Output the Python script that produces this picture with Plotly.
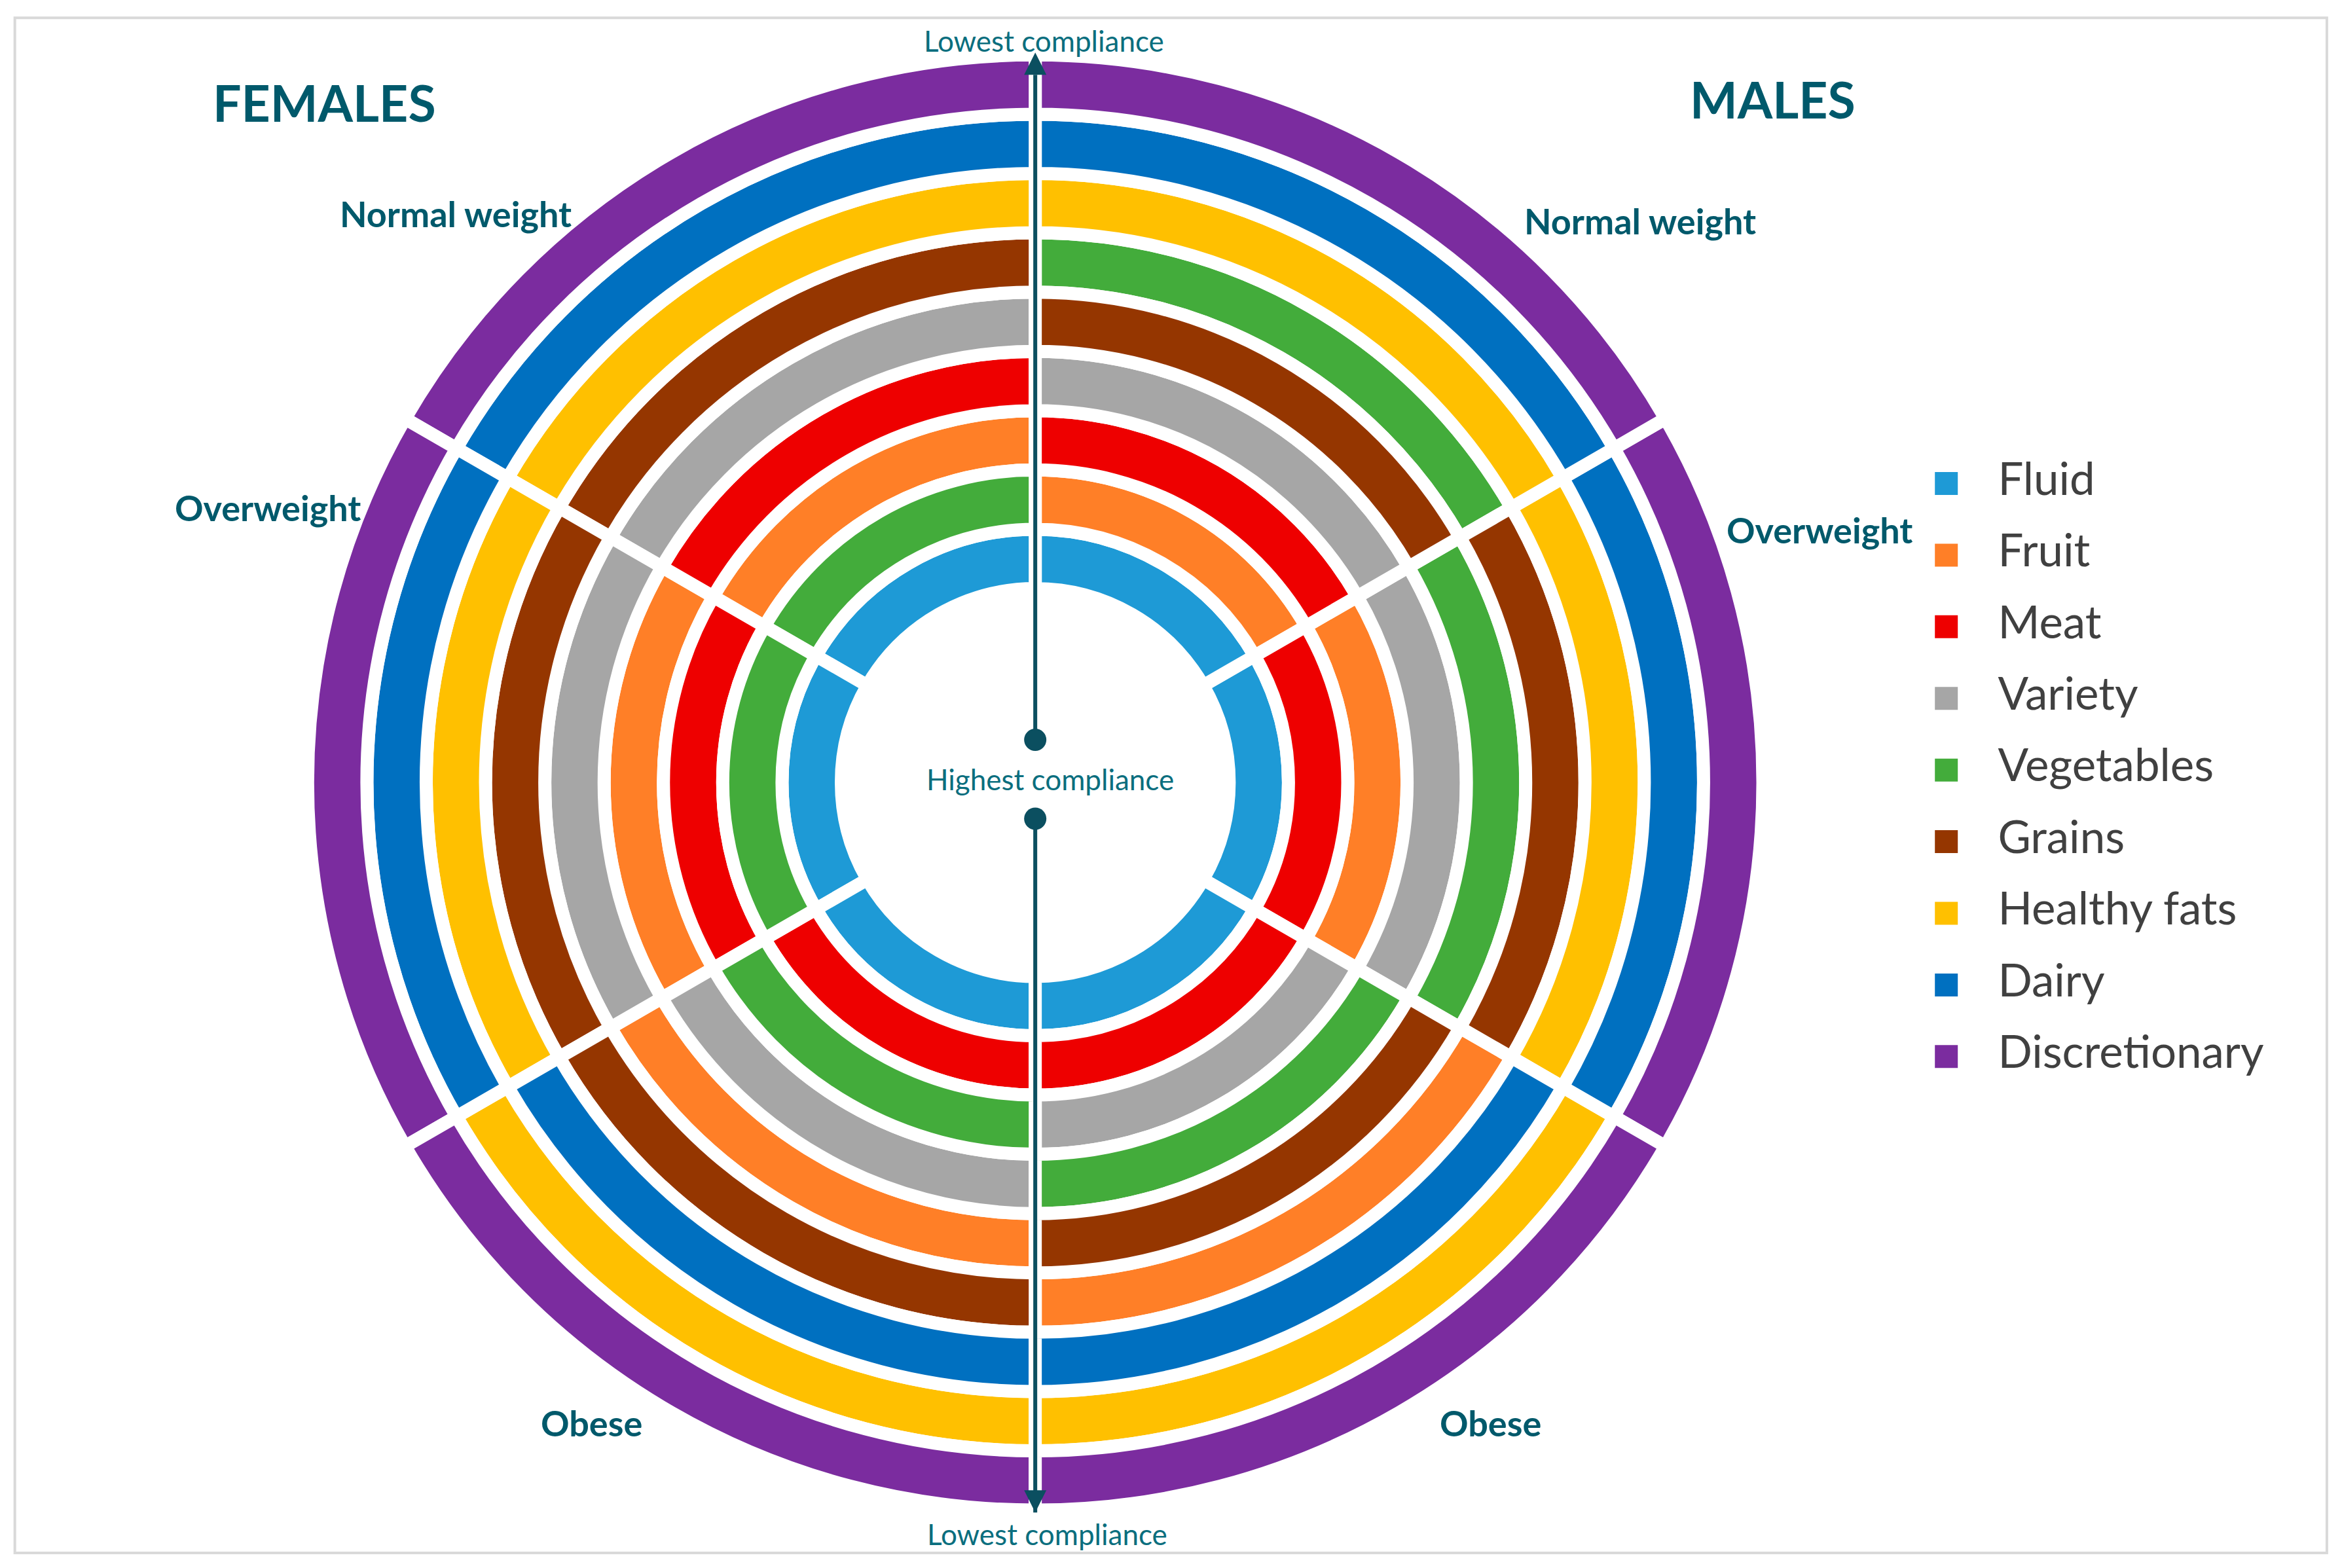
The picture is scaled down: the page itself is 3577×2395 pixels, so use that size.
import plotly.graph_objects as go

# food groups, legend order
categories = ["Fluid", "Fruit", "Meat", "Variety", "Vegetables",
              "Grains", "Healthy fats", "Dairy", "Discretionary"]
colors = ["#1E9AD6", "#FF7F27", "#EE0000", "#A6A6A6", "#43AC3B",
          "#953600", "#FFC000", "#0070C0", "#7B2C9F"]

# compliance ranking per group, highest compliance (inner ring) -> lowest (outer ring)
female_normal = ["Fluid", "Vegetables", "Fruit", "Meat", "Variety", "Grains", "Healthy fats", "Dairy", "Discretionary"]
female_overweight = ["Fluid", "Vegetables", "Meat", "Fruit", "Variety", "Grains", "Healthy fats", "Dairy", "Discretionary"]
female_obese = ["Fluid", "Meat", "Vegetables", "Variety", "Fruit", "Grains", "Dairy", "Healthy fats", "Discretionary"]
male_normal = ["Fluid", "Fruit", "Meat", "Variety", "Grains", "Vegetables", "Healthy fats", "Dairy", "Discretionary"]
male_overweight = ["Fluid", "Meat", "Fruit", "Variety", "Vegetables", "Grains", "Healthy fats", "Dairy", "Discretionary"]
male_obese = ["Fluid", "Meat", "Variety", "Vegetables", "Grains", "Fruit", "Dairy", "Healthy fats", "Discretionary"]

rankings = [male_overweight, male_normal, female_normal, female_overweight, female_obese, male_obese]
sector_angles = [0, 60, 120, 180, 240, 300]

TEAL = "#00596B"
TEAL_LIGHT = "#0A6E7E"
ARROW = "#0B4F60"
HOLE = 3.27  # radial offset of the first ring
DX, DY = -0.0022, 0.0033  # page body margin compensation

fig = go.Figure()

for cat, col in zip(categories, colors):
    theta, base = [], []
    for ang, order in zip(sector_angles, rankings):
        theta.append(ang)
        base.append(HOLE + order.index(cat))
    fig.add_trace(go.Barpolar(
        theta=theta, r=[1] * len(theta), base=base, width=60,
        marker=dict(color=col, line=dict(color="white", width=20)),
        name=cat, hoverinfo="skip", showlegend=False,
    ))

# compliance arrows (tip of the arrow symbol sits on the data point)
tip = HOLE + len(categories) + 0.04
fig.add_trace(go.Scatterpolar(
    theta=[90, 90], r=[0.72, tip], mode="lines+markers",
    line=dict(color=ARROW, width=6),
    marker=dict(symbol=["circle", "arrow-up"], size=[34, 34], color=ARROW,
                opacity=1, line=dict(width=0)),
    hoverinfo="skip", showlegend=False,
))
fig.add_trace(go.Scatterpolar(
    theta=[270, 270], r=[0.61, tip], mode="lines+markers",
    line=dict(color=ARROW, width=6),
    marker=dict(symbol=["circle", "arrow-down"], size=[34, 34], color=ARROW,
                opacity=1, line=dict(width=0)),
    hoverinfo="skip", showlegend=False,
))

# legend drawn on a small cartesian axis
fig.add_trace(go.Scatter(
    x=[0] * len(categories), y=categories, mode="markers",
    marker=dict(symbol="square", size=35, color=colors),
    xaxis="x", yaxis="y", hoverinfo="skip", showlegend=False,
))
fig.add_trace(go.Scatter(
    x=[1] * len(categories), y=categories, mode="text", text=categories,
    textposition="middle right", textfont=dict(size=69, color="#404040", family="Lato"),
    xaxis="x", yaxis="y", hoverinfo="skip", showlegend=False,
))

labels = [
    ("FEMALES", 0.1384, 0.935, 77, True),
    ("MALES", 0.757, 0.937, 77, True),
    ("Normal weight", 0.1945, 0.8638, 54, True),
    ("Normal weight", 0.7003, 0.859, 54, True),
    ("Overweight", 0.1142, 0.6762, 54, True),
    ("Overweight", 0.7768, 0.6619, 54, True),
    ("Obese", 0.2526, 0.0924, 54, True),
    ("Obese", 0.6365, 0.0924, 54, True),
    ("Lowest compliance", 0.4458, 0.9743, 44, False),
    ("Lowest compliance", 0.4471, 0.0219, 44, False),
    ("Highest compliance", 0.4483, 0.503, 44, False),
]
annotations = []
for txt, x, y, size, bold in labels:
    annotations.append(dict(
        text="<b>%s</b>" % txt if bold else txt,
        x=x + DX, y=y + DY, xref="paper", yref="paper", showarrow=False,
        xanchor="center", yanchor="middle",
        font=dict(size=size, color=TEAL if bold else TEAL_LIGHT, family="Lato"),
    ))

fig.update_layout(
    width=3577, height=2395,
    margin=dict(l=0, r=0, t=0, b=0),
    paper_bgcolor="white", plot_bgcolor="white",
    font=dict(family="Lato"),
    showlegend=False,
    polar=dict(
        domain=dict(x=[0.1113 + DX, 0.7727 + DX], y=[0.007 + DY, 0.995 + DY]),
        bgcolor="white", barmode="overlay",
        radialaxis=dict(range=[0, 13.06], visible=False),
        angularaxis=dict(visible=False),
    ),
    xaxis=dict(domain=[0.8 + DX, 1.0 + DX], range=[-1.41, 7.68], visible=False, fixedrange=True),
    yaxis=dict(domain=[0.3, 0.73], range=[8.646, -0.766], visible=False,
               type="category", fixedrange=True),
    annotations=annotations,
    shapes=[dict(type="rect", xref="paper", yref="paper",
                 x0=0.0041, x1=0.9913, y0=0.0129, y1=0.992,
                 line=dict(color="#D9D9D9", width=4))],
)

fig.write_html("out.html")
